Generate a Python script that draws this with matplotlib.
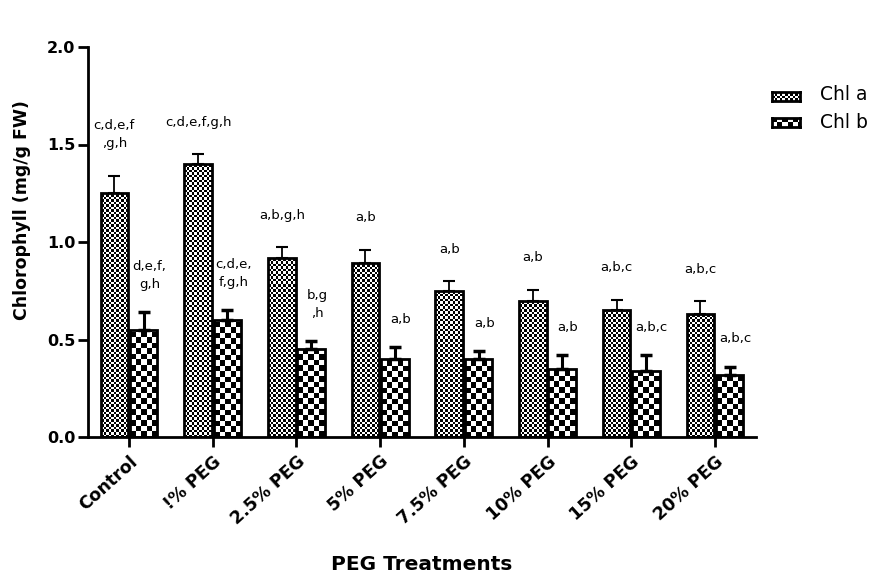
import numpy as np
import matplotlib
matplotlib.use('Agg')
from matplotlib import pyplot as plt

plt.rcParams['font.family'] = ['DejaVu Sans']

treatments = ['Control', '!% PEG', '2.5% PEG', '5% PEG', '7.5% PEG', '10% PEG', '15% PEG', '20% PEG']
chl_a = [1.25, 1.40, 0.92, 0.89, 0.75, 0.70, 0.65, 0.63]
chl_a_err = [0.09, 0.05, 0.055, 0.07, 0.05, 0.055, 0.055, 0.065]
chl_b = [0.55, 0.60, 0.45, 0.40, 0.40, 0.35, 0.34, 0.32]
chl_b_err = [0.09, 0.05, 0.04, 0.06, 0.04, 0.07, 0.08, 0.04]
letters_a = ['c,d,e,f\n,g,h', 'c,d,e,f,g,h', 'a,b,g,h', 'a,b', 'a,b', 'a,b', 'a,b,c', 'a,b,c']
letters_b = ['d,e,f,\ng,h', 'c,d,e,\nf,g,h', 'b,g\n,h', 'a,b', 'a,b', 'a,b', 'a,b,c', 'a,b,c']

fig = plt.figure(figsize=(8.8, 5.76), dpi=100)
ax = fig.add_axes([88/880, 1-437/576, (756-88)/880, (437-47)/576])
ax.set_xlim(-0.49, 7.49)
ax.set_ylim(0, 2.0)

# pixel -> data scale, used for the checker cell size
px_x = (7.49 + 0.49) / (756 - 88)
px_y = 2.0 / (437 - 47)


def checker(ax, bar, cell):
    x0, w, h = bar.get_x(), bar.get_width(), bar.get_height()
    nc = int(np.ceil(w / (cell * px_x))) + 1
    nr = int(np.ceil(h / (cell * px_y))) + 1
    img = (np.indices((nr, nc)).sum(axis=0) % 2).astype(float)
    im = ax.imshow(img, cmap='gray', vmin=0, vmax=1, interpolation='nearest',
                   extent=(x0, x0 + nc * cell * px_x, 0, nr * cell * px_y),
                   origin='lower', aspect='auto', zorder=1)
    im.set_clip_path(bar)


x = np.arange(len(treatments))
w = 0.33
bars_a = ax.bar(x - w/2 - 0.01, chl_a, w, facecolor='none', edgecolor='black', linewidth=2, zorder=2)
bars_b = ax.bar(x + w/2 + 0.01, chl_b, w, facecolor='none', edgecolor='black', linewidth=2, zorder=2)
for b in bars_a:
    checker(ax, b, 2.5)
for b in bars_b:
    checker(ax, b, 5.5)

ax.errorbar(x - w/2 - 0.01, chl_a, yerr=[np.zeros(len(x)), chl_a_err], fmt='none',
            ecolor='black', elinewidth=1.3, capsize=4, capthick=1.5, zorder=3)
ax.errorbar(x + w/2 + 0.01, chl_b, yerr=[np.zeros(len(x)), chl_b_err], fmt='none',
            ecolor='black', elinewidth=2.2, capsize=4.5, capthick=2.5, zorder=3)

for i in range(len(x)):
    ax.text(x[i] - w/2 - 0.01, chl_a[i] + chl_a_err[i] + 0.13, letters_a[i],
            ha='center', va='bottom', fontsize=9.5, linespacing=1.5)
    ax.text(x[i] + w/2 + 0.08, chl_b[i] + chl_b_err[i] + 0.11, letters_b[i],
            ha='center', va='bottom', fontsize=9.5, linespacing=1.5)

ax.set_xlim(-0.49, 7.49)
ax.set_ylim(0, 2.0)
for s in ['top', 'right']:
    ax.spines[s].set_visible(False)
ax.spines['left'].set_linewidth(2)
ax.spines['bottom'].set_linewidth(2)
ax.set_yticks([0, 0.5, 1.0, 1.5, 2.0])
ax.set_yticklabels(['0.0', '0.5', '1.0', '1.5', '2.0'], fontsize=11.5, fontweight='bold')
ax.set_xticks(x)
ax.set_xticklabels(treatments, rotation=42, ha='right', rotation_mode='anchor',
                   fontsize=12.5, fontweight='bold')
ax.tick_params(axis='both', direction='out', length=7, width=2)
ax.tick_params(axis='y', pad=2)
ax.tick_params(axis='x', pad=4)
fig.text(22/880, 1-210/576, 'Chlorophyll (mg/g FW)', fontsize=12.5, fontweight='bold',
         rotation=90, ha='center', va='center')
fig.text(422/880, 1-565/576, 'PEG Treatments', fontsize=14.5, fontweight='bold',
         ha='center', va='center')

# legend swatches
for lab, cell, ytop, ytxt in [('Chl a', 2.5, 92, 95), ('Chl b', 5.0, 118, 122)]:
    lax = fig.add_axes([772/880, 1-(ytop+9)/576, 28/880, 9/576])
    nc = int(28 / cell) + 1
    nr = int(9 / cell) + 1
    img = (np.indices((nr, nc)).sum(axis=0) % 2).astype(float)
    lax.imshow(img, cmap='gray', vmin=0, vmax=1, interpolation='nearest',
               extent=(0, nc * cell, 0, nr * cell), aspect='auto')
    lax.set_xlim(0, 28)
    lax.set_ylim(0, 9)
    lax.set_xticks([])
    lax.set_yticks([])
    for s in lax.spines.values():
        s.set_linewidth(2)
    fig.text(820/880, 1-ytxt/576, lab, fontsize=13.5, va='center', ha='left')

fig.savefig('out.png', dpi=100)
